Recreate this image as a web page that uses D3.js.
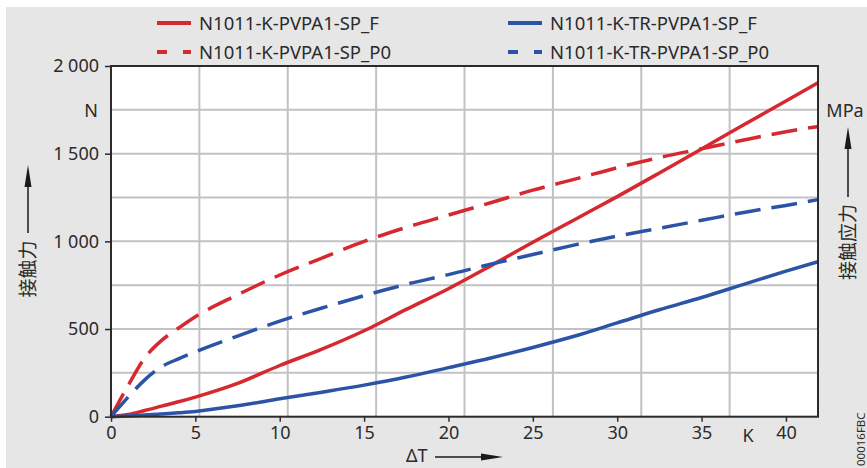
<!DOCTYPE html>
<html>
<head>
<meta charset="utf-8">
<script src="https://cdn.jsdelivr.net/npm/d3@7"></script>
<style>
  body { margin: 0; background: #fff; }
  text { font-family: "Noto Sans", "Open Sans", sans-serif; fill: #2b2b2b; }
  .cjk { font-family: "Noto Sans CJK SC", sans-serif; }
</style>
</head>
<body>
<div id="chart"></div>
<script>
// x values (ΔT in K)
const deltaT = [0, 1, 2, 3, 4, 5, 7.5, 10, 12.5, 15, 17.5, 20, 22.5, 25, 27.5, 30, 32.5, 35, 37.5, 40, 41.9];

// contact force / pressure
const pvpaF   = [0, 12, 35, 60, 85, 112, 190, 292, 385, 490, 612, 730, 860, 995, 1125, 1255, 1390, 1527, 1665, 1800, 1905];
const pvpaP0  = [0, 175, 335, 435, 505, 570, 695, 808, 905, 1000, 1080, 1150, 1220, 1292, 1355, 1420, 1478, 1528, 1578, 1625, 1655];
const trF     = [0, 4, 9, 15, 22, 30, 62, 102, 140, 180, 226, 280, 335, 395, 460, 535, 610, 680, 755, 830, 884];
const trP0    = [0, 110, 210, 285, 330, 370, 460, 545, 620, 690, 755, 810, 870, 925, 980, 1030, 1075, 1120, 1165, 1205, 1238];

const seriesNames = ['N1011-K-PVPA1-SP_F', 'N1011-K-PVPA1-SP_P0', 'N1011-K-TR-PVPA1-SP_F', 'N1011-K-TR-PVPA1-SP_P0'];

const xTicks = [0, 5, 10, 15, 20, 25, 30, 35, 40];
const yTicks = [0, 500, 1000, 1500, 2000];
const yTickLabels = ['0', '500', '1 000', '1 500', '2 000'];

const RED = '#d5282f';
const BLUE = '#2c54a6';

const series = [
  { name: seriesNames[0], values: pvpaF,  color: RED,  dashed: false },
  { name: seriesNames[1], values: pvpaP0, color: RED,  dashed: true },
  { name: seriesNames[2], values: trF,    color: BLUE, dashed: false },
  { name: seriesNames[3], values: trP0,   color: BLUE, dashed: true }
];

const svgWidth = 867;
const svgHeight = 468;
const plot = { left: 111, right: 818, top: 66, bottom: 416.7 };
const xMax = 41.9;

const svg = d3.select('#chart')
  .append('svg')
  .attr('width', svgWidth)
  .attr('height', svgHeight);

// grey page background
svg.append('rect')
  .attr('x', 6).attr('y', 7)
  .attr('width', svgWidth - 6).attr('height', svgHeight - 7)
  .attr('fill', '#e6e6e6');

const x = d3.scaleLinear().domain([0, xMax]).range([plot.left, plot.right]);
const y = d3.scaleLinear().domain([0, 2000]).range([plot.bottom, plot.top]);

// plot area
svg.append('rect')
  .attr('x', plot.left).attr('y', plot.top)
  .attr('width', plot.right - plot.left).attr('height', plot.bottom - plot.top)
  .attr('fill', '#fff');

// grid: 8 equal columns, rows every 250 N
const gridX = d3.range(1, 8).map(i => xMax * i / 8);
const gridY = d3.range(250, 2000, 250);

const grid = svg.append('g').attr('stroke', '#c2c2c6').attr('stroke-width', 2);
grid.selectAll('line.gx')
  .data(gridX)
  .enter()
  .append('line')
  .attr('x1', d => x(d)).attr('x2', d => x(d))
  .attr('y1', plot.top).attr('y2', plot.bottom);
grid.selectAll('line.gy')
  .data(gridY)
  .enter()
  .append('line')
  .attr('x1', plot.left).attr('x2', plot.right)
  .attr('y1', d => y(d)).attr('y2', d => y(d));

// curves
const line = d3.line()
  .x((d, i) => x(deltaT[i]))
  .y(d => y(d))
  .curve(d3.curveMonotoneX);

svg.append('g')
  .selectAll('path')
  .data(series)
  .enter()
  .append('path')
  .attr('d', d => line(d.values))
  .attr('fill', 'none')
  .attr('stroke', d => d.color)
  .attr('stroke-width', 3.5)
  .attr('stroke-dasharray', d => d.dashed ? '26,11' : null);

// frame
svg.append('rect')
  .attr('x', plot.left).attr('y', plot.top)
  .attr('width', plot.right - plot.left).attr('height', plot.bottom - plot.top)
  .attr('fill', 'none')
  .attr('stroke', '#2b2b2b')
  .attr('stroke-width', 2);

// axes
const axisY = svg.append('g')
  .attr('transform', `translate(${plot.left}, 0)`)
  .call(d3.axisLeft(y).tickValues(yTicks).tickSize(6).tickPadding(6)
    .tickFormat((d, i) => yTickLabels[i]));
const axisX = svg.append('g')
  .attr('transform', `translate(0, ${plot.bottom})`)
  .call(d3.axisBottom(x).tickValues(xTicks).tickSize(5).tickPadding(5));

[axisY, axisX].forEach(a => {
  a.select('.domain').remove();
  a.selectAll('line').attr('stroke', '#2b2b2b').attr('stroke-width', 1.5);
  a.selectAll('text').attr('font-size', 18).attr('fill', '#2b2b2b')
    .style('font-family', '"Noto Sans", sans-serif');
});

// units
svg.append('text').attr('x', 98).attr('y', y(1750) + 7)
  .attr('text-anchor', 'end').attr('font-size', 18).text('N');
svg.append('text').attr('x', x(37.75)).attr('y', 442)
  .attr('text-anchor', 'middle').attr('font-size', 18).text('K');
svg.append('text').attr('x', 845).attr('y', 117)
  .attr('text-anchor', 'middle').attr('font-size', 18).text('MPa');

// arrow helper
function arrowHead(tx, ty, dir) {
  // dir: 'up' or 'right'
  const len = 22, hw = 3.5;
  let pts;
  if (dir === 'up') pts = [[tx, ty], [tx - hw, ty + len], [tx + hw, ty + len]];
  else pts = [[tx, ty], [tx - len, ty - hw], [tx - len, ty + hw]];
  svg.append('path').attr('d', 'M' + pts.join('L') + 'Z').attr('fill', '#1a1a1a');
}

// left axis title
svg.append('text')
  .attr('class', 'cjk')
  .attr('transform', 'translate(35, 269) rotate(-90)')
  .attr('text-anchor', 'middle')
  .attr('font-size', 19)
  .text('接触力');
svg.append('line').attr('x1', 28).attr('x2', 28).attr('y1', 233).attr('y2', 185)
  .attr('stroke', '#1a1a1a').attr('stroke-width', 1.5);
arrowHead(28, 165, 'up');

// right axis title
svg.append('text')
  .attr('class', 'cjk')
  .attr('transform', 'translate(855, 242) rotate(-90)')
  .attr('text-anchor', 'middle')
  .attr('font-size', 19)
  .text('接触应力');
svg.append('line').attr('x1', 848).attr('x2', 848).attr('y1', 197).attr('y2', 147)
  .attr('stroke', '#1a1a1a').attr('stroke-width', 1.5);
arrowHead(848, 127, 'up');

// bottom axis title
svg.append('text').attr('x', 406).attr('y', 462).attr('font-size', 18).text('ΔT');
svg.append('line').attr('x1', 435).attr('x2', 484).attr('y1', 457).attr('y2', 457)
  .attr('stroke', '#1a1a1a').attr('stroke-width', 1.5);
arrowHead(503, 457, 'right');

// figure code
svg.append('text')
  .attr('transform', 'translate(865, 466) rotate(-90)')
  .attr('font-size', 11.5)
  .text('00016FBC');

// legend
const legendPos = [[157, 23], [157, 52], [508, 23], [508, 52]];
const legend = svg.append('g');
series.forEach((s, i) => {
  const [lx, ly] = legendPos[i];
  const g = legend.append('g').attr('transform', `translate(${lx}, ${ly})`);
  if (s.dashed) {
    g.append('line').attr('x1', 0).attr('x2', 10).attr('y1', 0).attr('y2', 0)
      .attr('stroke', s.color).attr('stroke-width', 4);
    g.append('line').attr('x1', 26).attr('x2', 34).attr('y1', 0).attr('y2', 0)
      .attr('stroke', s.color).attr('stroke-width', 4);
  } else {
    g.append('line').attr('x1', 0).attr('x2', 34).attr('y1', 0).attr('y2', 0)
      .attr('stroke', s.color).attr('stroke-width', 4);
  }
  g.append('text').attr('x', 42).attr('y', 7).attr('font-size', 18.5).text(s.name);
});
</script>
</body>
</html>
